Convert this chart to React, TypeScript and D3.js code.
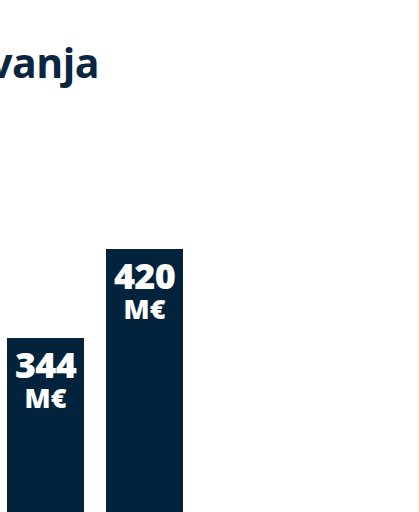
import React from "react";
import * as d3 from "d3";

const categories = ["2022", "2023"];
const values = [344, 420];
const unitLabel = "M€";
const titleText = "Rast poslovanja";

const W = 419;
const H = 512;
const NAVY = "#03233d";

export default function App() {
  const x = d3
    .scaleBand<string>()
    .domain(categories)
    .range([7, 183])
    .paddingInner(22 / 99)
    .paddingOuter(0);
  const y = d3.scaleLinear().domain([0, 420]).range([741, 249]);

  return (
    <svg
      width={W}
      height={H}
      style={{ position: "absolute", left: 0, top: 0, background: "#ffffff" }}
      fontFamily="'Open Sans', sans-serif"
    >
      <rect x={0} y={0} width={W} height={H} fill="#ffffff" />
      <line x1={418} x2={418} y1={0} y2={H} stroke="#f9f0d6" strokeWidth={1.5} />
      <text
        x={99}
        y={78}
        textAnchor="end"
        fontSize={41}
        fontWeight={700}
        fill="#0b2640"
        letterSpacing={-0.5}
      >
        {titleText}
      </text>
      {categories.map((c, i) => {
        const bx = x(c)!;
        const top = y(values[i]);
        const cx = bx + x.bandwidth() / 2;
        return (
          <g key={c}>
            <rect x={bx} y={top} width={x.bandwidth()} height={y(0) - top} fill={NAVY} />
            <text
              x={cx}
              y={top + 40}
              textAnchor="middle"
              fontSize={36}
              fontWeight={800}
              fill="#ffffff"
              letterSpacing={-0.8}
            >
              {values[i]}
            </text>
            <text
              x={cx}
              y={top + 70}
              textAnchor="middle"
              fontSize={27}
              fontWeight={800}
              fill="#ffffff"
            >
              {unitLabel}
            </text>
          </g>
        );
      })}
    </svg>
  );
}
